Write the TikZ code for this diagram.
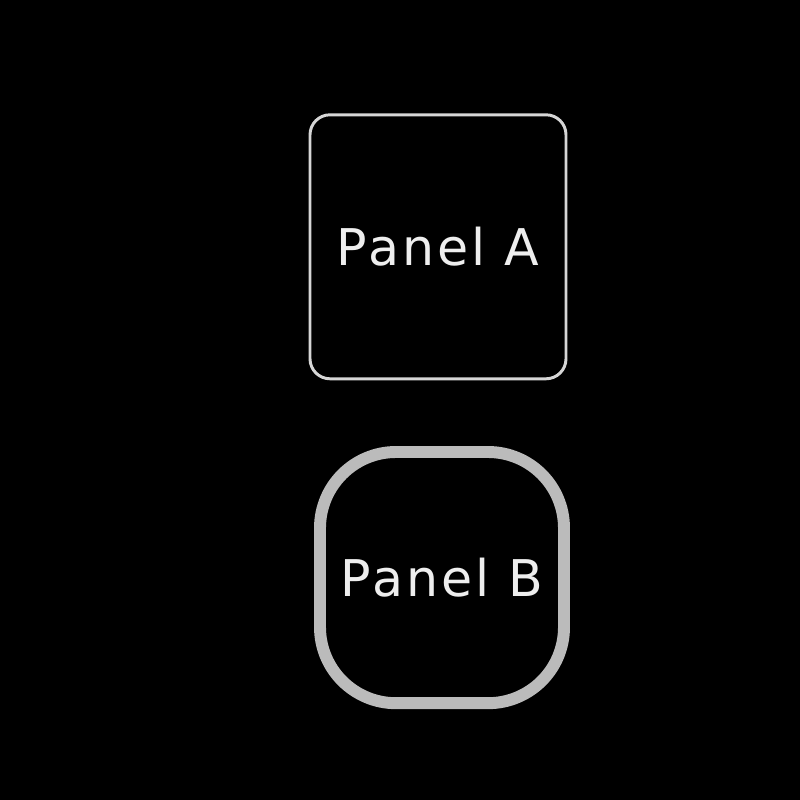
\documentclass[tikz,border=0pt]{standalone}
\usepackage{fontspec}
\setmainfont{DejaVu Sans}[LetterSpace=6]
\definecolor{edgeA}{HTML}{D6D6D6}
\definecolor{edgeB}{HTML}{BBBBBB}
\definecolor{labeltext}{HTML}{EEEEEE}
\begin{document}
\begin{tikzpicture}[
    panel/.style={text=labeltext, font=\fontsize{36}{40}\selectfont, align=center}]
% Background
\fill[black] (0,0) rectangle (20,20);
\useasboundingbox (0,0) rectangle (20,20);

% Panel A
\node[panel, draw=edgeA, line width=2.1pt, rounded corners=0.5cm,
    minimum width=6.4cm, minimum height=6.6cm]
    (panelA) at (10.95,13.83) {Panel A};

% Panel B
\node[panel, draw=edgeB, line width=8.5pt, rounded corners=1.9cm,
    minimum width=6.1cm, minimum height=6.28cm]
    (panelB) at (11.05,5.56) {Panel B};

\end{tikzpicture}
\end{document}
